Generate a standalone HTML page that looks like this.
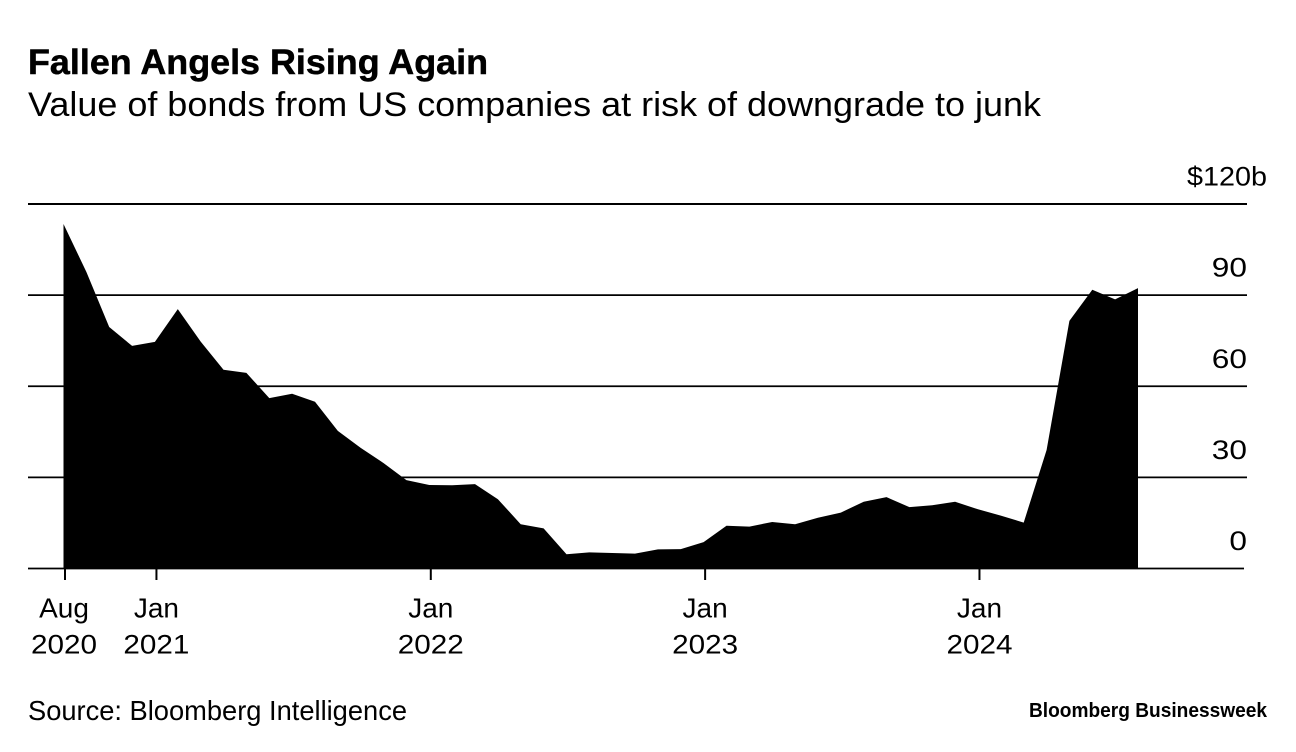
<!DOCTYPE html>
<html lang="en">
<head>
<meta charset="utf-8">
<title>Fallen Angels Rising Again</title>
<style>
  html, body { margin: 0; padding: 0; background: #fff; }
  body { width: 1296px; height: 752px; overflow: hidden; }
  svg { display: block; }
  text { font-family: "Liberation Sans", Arial, sans-serif; fill: #000; }
</style>
</head>
<body>
<svg id="chart" width="1296" height="752" viewBox="0 0 1296 752" xmlns="http://www.w3.org/2000/svg">
  <rect x="0" y="0" width="1296" height="752" fill="#fff"/>
  <text x="28" y="74" font-size="35" font-weight="700" stroke="#000" stroke-width="0.5" textLength="460" lengthAdjust="spacingAndGlyphs">Fallen Angels Rising Again</text>
  <text x="28" y="116" font-size="34" textLength="1013" lengthAdjust="spacingAndGlyphs">Value of bonds from US companies at risk of downgrade to junk</text>
  <g id="grid"></g>
  <path id="area" fill="#000"></path>
  <g id="xaxis"></g>
  <g id="yaxis"></g>
  <text x="28" y="720" font-size="28" textLength="379" lengthAdjust="spacingAndGlyphs">Source: Bloomberg Intelligence</text>
  <text x="1029" y="717" font-size="20.5" font-weight="700" textLength="238" lengthAdjust="spacingAndGlyphs">Bloomberg Businessweek</text>
</svg>
<script>
const values = [113.4, 97.6, 79.5, 73.3, 74.6, 85.4, 74.7, 65.4, 64.4, 56.1, 57.5, 54.9,
  45.3, 39.7, 34.7, 29.1, 27.5, 27.4, 27.8, 22.8, 14.6, 13.2, 4.7, 5.3,
  5.1, 4.9, 6.3, 6.4, 8.7, 14.1, 13.8, 15.3, 14.6, 16.7, 18.4, 22.0,
  23.5, 20.2, 20.8, 22.0, 19.5, 17.4, 15.1, 39.0, 81.5, 91.8, 88.6, 92.3];
const yTicks = [0, 30, 60, 90, 120];
const yTickLabels = ['0', '30', '60', '90', '$120b'];
const xTickIndexes = [0, 4, 16, 28, 40];
const xTickMonths = ['Aug', 'Jan', 'Jan', 'Jan', 'Jan'];
const xTickYears = ['2020', '2021', '2022', '2023', '2024'];

const SVG_NS = 'http://www.w3.org/2000/svg';
const xLeft = 63.5, xRight = 1138, yZero = 568.5, yTop = 204, yMax = 120;
function xScale(i) { return xLeft + (xRight - xLeft) * i / (values.length - 1); }
function yScale(v) { return yZero - (yZero - yTop) * v / yMax; }
function make(tag, attrs, parent) {
  const el = document.createElementNS(SVG_NS, tag);
  for (const k in attrs) el.setAttribute(k, attrs[k]);
  parent.appendChild(el);
  return el;
}

const grid = document.getElementById('grid');
const yaxis = document.getElementById('yaxis');
yTicks.forEach(function (t, i) {
  const y = yScale(t);
  const line = make('line', { x1: 28, x2: t === 0 ? 1244 : 1247, y1: y, y2: y, stroke: '#000', 'stroke-width': t === yMax ? 2 : 1.7 }, grid);
  
  
  const isTop = t === yMax;
  const text = yTickLabels[i];
  const width = isTop ? 80 : text.length * 17.6;
  const label = make('text', { x: (isTop ? 1267 : 1247) - width, y: y - 18.4, 'font-size': 27, textLength: width, lengthAdjust: 'spacingAndGlyphs' }, yaxis);
  
  
  label.textContent = text;
});

let d = 'M' + xScale(0).toFixed(1) + ' ' + yZero;
values.forEach(function (v, i) {
  d += ' L' + xScale(i).toFixed(1) + ' ' + yScale(v).toFixed(1);
});
d += ' L' + xScale(values.length - 1).toFixed(1) + ' ' + yZero + ' Z';
document.getElementById('area').setAttribute('d', d);

const xaxis = document.getElementById('xaxis');
xTickIndexes.forEach(function (idx, i) {
  const x = xScale(idx) + 1.5;
  const tick = make('line', { x1: x, x2: x, y1: yZero, y2: 580, stroke: '#000', 'stroke-width': 2 }, xaxis);
  
  
  const month = make('text', { x: x - (i === 0 ? 1 : 0), y: 617.5, 'font-size': 28, 'text-anchor': 'middle' }, xaxis);
  
  
  month.textContent = xTickMonths[i];
  const year = make('text', { x: x - 33 - (i === 0 ? 1 : 0), y: 653.5, 'font-size': 27, textLength: 66, lengthAdjust: 'spacingAndGlyphs' }, xaxis);
  
  
  year.textContent = xTickYears[i];
});
</script>
</body>
</html>
